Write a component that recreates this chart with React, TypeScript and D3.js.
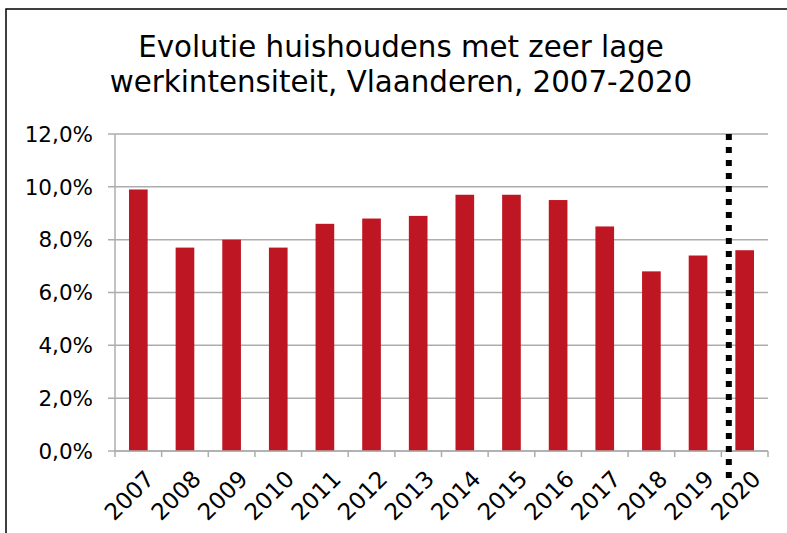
import * as d3 from "d3";

// ─── Data ─────────────────────────────────────────────────────────────────────

const YEARS = [
  "2007", "2008", "2009", "2010", "2011", "2012", "2013",
  "2014", "2015", "2016", "2017", "2018", "2019", "2020",
];
const VALUES = [9.9, 7.7, 8.0, 7.7, 8.6, 8.8, 8.9, 9.7, 9.7, 9.5, 8.5, 6.8, 7.4, 7.6];
const Y_TICKS = [0, 2, 4, 6, 8, 10, 12];
const BREAK_YEAR = "2020";

const TITLE = ["Evolutie huishoudens met zeer lage", "werkintensiteit, Vlaanderen, 2007-2020"];

// ─── Palette ──────────────────────────────────────────────────────────────────

const BAR = "#BE1622";
const GRID = "#ADADAD";
const FONT = "Verdana, 'DejaVu Sans', sans-serif";

export default function App() {
  const W = 787,
    H = 533;
  const m = { left: 115, right: 19, top: 134, bottom: 82 };
  const iw = W - m.left - m.right;
  const ih = H - m.top - m.bottom;

  const x = d3.scaleBand().domain(YEARS).range([0, iw]).paddingInner(0.6).paddingOuter(0.3);
  const y = d3.scaleLinear().domain([0, 12]).range([ih, 0]);
  const bounds = d3.range(YEARS.length + 1).map((i) => i * (iw / YEARS.length));
  const fmt = (v: number) => v.toFixed(1).replace(".", ",") + "%";

  // dotted break line sits just left of the 2020 bar
  const breakX = x(BREAK_YEAR)! - x.bandwidth() * 0.35;

  return (
    <svg
      width={W}
      height={H}
      style={{ position: "absolute", left: 0, top: 0, background: "#fff" }}
      fontFamily={FONT}
    >
      {/* outer frame */}
      <rect x={6} y={9} width={W + 20} height={H + 20} fill="none" stroke="#000" strokeWidth={1.5} />

      {TITLE.map((t, i) => (
        <text key={i} x={401} y={57 + i * 35} textAnchor="middle" fontSize={29.3} fill="#000">
          {t}
        </text>
      ))}

      <g transform={`translate(${m.left},${m.top})`}>
        {/* gridlines + y labels */}
        {Y_TICKS.map((t) => (
          <g key={t} transform={`translate(0,${y(t)})`}>
            <line x1={-7} x2={iw} stroke={GRID} strokeWidth={1.5} />
            <text x={-22} dy="0.36em" textAnchor="end" fontSize={21.5} fill="#000">
              {fmt(t)}
            </text>
          </g>
        ))}
        {/* y axis line */}
        <line x1={0} x2={0} y1={0} y2={ih} stroke={GRID} strokeWidth={1.5} />

        {/* bars */}
        {YEARS.map((yr, i) => (
          <rect
            key={yr}
            x={x(yr)}
            y={y(VALUES[i])}
            width={x.bandwidth()}
            height={ih - y(VALUES[i])}
            fill={BAR}
          />
        ))}

        {/* x axis */}
        <line x1={0} x2={iw} y1={ih} y2={ih} stroke={GRID} strokeWidth={1.5} />
        {bounds.map((b, i) => (
          <line key={i} x1={b} x2={b} y1={ih} y2={ih + 6} stroke={GRID} strokeWidth={1.5} />
        ))}
        {YEARS.map((yr) => {
          const cx = x(yr)! + x.bandwidth() / 2 + 6;
          return (
            <text
              key={yr}
              transform={`translate(${cx},${ih + 18}) rotate(-45)`}
              textAnchor="end"
              dy="0.7em"
              fontSize={23}
              fill="#000"
            >
              {yr}
            </text>
          );
        })}

        {/* break line */}
        <line
          x1={breakX}
          x2={breakX}
          y1={0}
          y2={ih + 32}
          stroke="#000"
          strokeWidth={6}
          strokeDasharray="6 7"
        />
      </g>
    </svg>
  );
}
